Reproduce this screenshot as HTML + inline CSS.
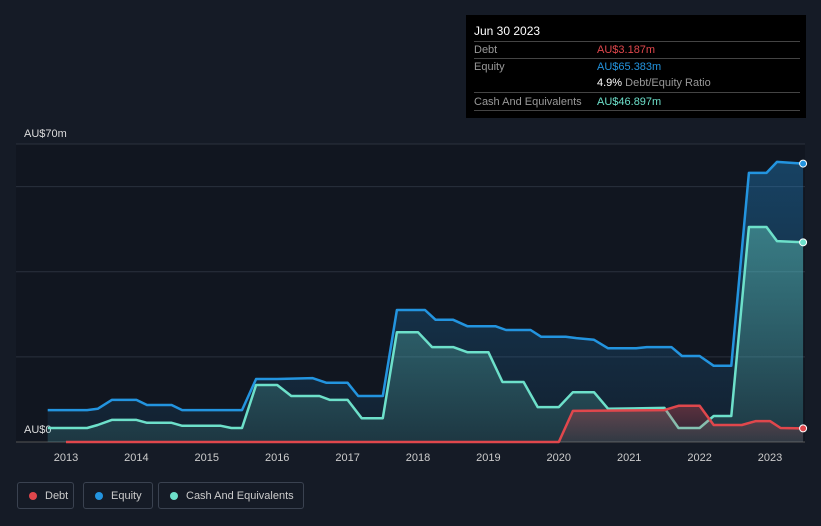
<!DOCTYPE html>
<html><head><meta charset="utf-8"><style>
body{margin:0;background:#151b26;font-family:"Liberation Sans",sans-serif;}
#wrap{position:relative;width:821px;height:526px;overflow:hidden;background:#151b26;}
svg{position:absolute;left:0;top:0;}
.tt{position:absolute;left:466px;top:15px;width:340px;height:103px;background:#000;color:#ccc;font-size:11px;}
.tt .row{position:absolute;left:8px;width:326px;border-top:1px solid #444;height:17px;}
.lg{position:absolute;top:482px;height:27px;border:1px solid #3a4250;border-radius:3px;color:#ccc;font-size:11px;line-height:27px;box-sizing:border-box;}
.dot{display:inline-block;width:8px;height:8px;border-radius:50%;margin:0 8px 0 11px;vertical-align:-1px;}
</style></head><body>
<div id="wrap">
<svg id="chart" width="821" height="526"></svg>
<div class="tt">
  <div style="position:absolute;left:8px;top:9px;color:#fff;font-size:12px">Jun 30 2023</div>
  <div class="row" style="top:26px"><span style="position:absolute;top:2px;color:#999">Debt</span><span style="position:absolute;left:123px;top:2px;color:#e0474c">AU$3.187m</span></div>
  <div class="row" style="top:43px;border-top-color:#444"><span style="position:absolute;top:2px;color:#999">Equity</span><span style="position:absolute;left:123px;top:2px;color:#2394df">AU$65.383m</span></div>
  <div style="position:absolute;left:131px;top:62px"><b style="color:#fff;font-weight:normal">4.9%</b> <span style="color:#999">Debt/Equity Ratio</span></div>
  <div class="row" style="top:77px"><span style="position:absolute;top:3px;color:#999">Cash And Equivalents</span><span style="position:absolute;left:123px;top:3px;color:#6de0ca">AU$46.897m</span></div>
  <div class="row" style="top:95px;height:0"></div>
</div>
<div class="lg" style="left:17px;width:57px"><span class="dot" style="background:#e0474c"></span>Debt</div>
<div class="lg" style="left:83px;width:70px"><span class="dot" style="background:#2394df"></span>Equity</div>
<div class="lg" style="left:158px;width:146px"><span class="dot" style="background:#6de0ca"></span>Cash And Equivalents</div>
</div>
<script>
const equityYears=[2012.74,2013.3,2013.45,2013.65,2014.0,2014.15,2014.5,2014.65,2015.5,2015.7,2016.0,2016.5,2016.7,2017.0,2017.15,2017.5,2017.7,2018.1,2018.25,2018.5,2018.7,2019.1,2019.25,2019.6,2019.75,2020.1,2020.25,2020.5,2020.7,2021.1,2021.25,2021.6,2021.75,2022.0,2022.2,2022.45,2022.7,2022.95,2023.1,2023.47];
const equityVals=[7.5,7.5,7.8,9.9,9.9,8.7,8.7,7.5,7.5,14.8,14.8,15,13.9,13.9,10.8,10.8,31,31,28.7,28.7,27.2,27.2,26.3,26.3,24.7,24.7,24.4,24,22,22,22.3,22.3,20.2,20.2,17.9,17.9,63.2,63.2,65.8,65.4];
const cashYears=[2012.74,2013.3,2013.45,2013.65,2014.0,2014.15,2014.5,2014.65,2015.2,2015.35,2015.5,2015.7,2016.0,2016.2,2016.6,2016.75,2017.0,2017.2,2017.5,2017.7,2018.0,2018.2,2018.5,2018.7,2019.0,2019.2,2019.5,2019.7,2020.0,2020.2,2020.5,2020.7,2021.5,2021.7,2022.0,2022.2,2022.45,2022.7,2022.95,2023.1,2023.47];
const cashVals=[3.3,3.3,4,5.2,5.2,4.5,4.5,3.8,3.8,3.3,3.3,13.4,13.4,10.8,10.8,9.9,9.9,5.6,5.6,25.8,25.8,22.3,22.3,21.1,21.1,14.1,14.1,8.2,8.2,11.7,11.7,7.8,8.0,3.3,3.3,6.1,6.1,50.5,50.5,47.2,46.9];
const debtYears=[2013.0,2020.0,2020.2,2021.5,2021.7,2022.0,2022.2,2022.6,2022.8,2023.0,2023.15,2023.47];
const debtVals=[0,0,7.3,7.5,8.5,8.5,4,4,4.9,4.9,3.3,3.2];
const yTicks=[0,20,40,60,70];
const xTicks=[2013,2014,2015,2016,2017,2018,2019,2020,2021,2022,2023];

const svg=document.getElementById('chart');
const NS='http://www.w3.org/2000/svg';
const x=v=>66+(v-2013)*70.4;
const y=v=>442-v*298/70;
function mk(t,a){const e=document.createElementNS(NS,t);for(const k in a)e.setAttribute(k,a[k]);svg.appendChild(e);return e;}
// darker plot bg
const bg=mk('rect',{x:16,y:144,width:789,height:298,fill:'#111620'});


const defs=mk('defs',{});
defs.innerHTML='<linearGradient id="ge" x1="0" y1="0" x2="0" y2="1"><stop offset="0" stop-color="#2394df" stop-opacity="0.35"/><stop offset="1" stop-color="#2394df" stop-opacity="0.08"/></linearGradient><linearGradient id="gc" x1="0" y1="0" x2="0" y2="1"><stop offset="0" stop-color="#6de0ca" stop-opacity="0.4"/><stop offset="1" stop-color="#6de0ca" stop-opacity="0.12"/></linearGradient><linearGradient id="gd" x1="0" y1="0" x2="0" y2="1"><stop offset="0" stop-color="#e0474c" stop-opacity="0.35"/><stop offset="1" stop-color="#e0474c" stop-opacity="0.1"/></linearGradient>';
yTicks.forEach(t=>{
  const l=mk('line',{x1:16,x2:805,y1:y(t),y2:y(t),stroke:t===0?'#555':'#2a313d','stroke-width':1});
  
  
});
[['AU$70m',70],['AU$0',0]].forEach(([s,v])=>{
  const tx=mk('text',{x:24,y:y(v)-7+(v===0?-2:0),fill:'#ddd','font-size':11});
  tx.textContent=s;
  
  
});
xTicks.forEach(t=>{
  const tx=mk('text',{x:x(t),y:461,fill:'#ccc','font-size':11,'text-anchor':'middle'});
  tx.textContent=t;
  
  
});
function series(xs,vs,color,grad,name){
  const pts=xs.map((v,i)=>x(v).toFixed(1)+','+y(vs[i]).toFixed(1));
  const area=mk('path',{d:'M'+x(xs[0])+','+y(0)+' L'+pts.join(' L')+' L'+x(xs[xs.length-1])+','+y(0)+'Z',fill:'url(#'+grad+')'});
  
  
  const ln=mk('polyline',{points:pts.join(' '),fill:'none',stroke:color,'stroke-width':2.5,'stroke-linejoin':'round'});
  
  
  const c=mk('circle',{cx:x(xs[xs.length-1]),cy:y(vs[vs.length-1]),r:3.5,fill:color,stroke:'#fff','stroke-width':1});
  
  
}
series(equityYears,equityVals,'#2394df','ge','equity');
series(cashYears,cashVals,'#6de0ca','gc','cash');
series(debtYears,debtVals,'#e0474c','gd','debt');
</script>
</body></html>
